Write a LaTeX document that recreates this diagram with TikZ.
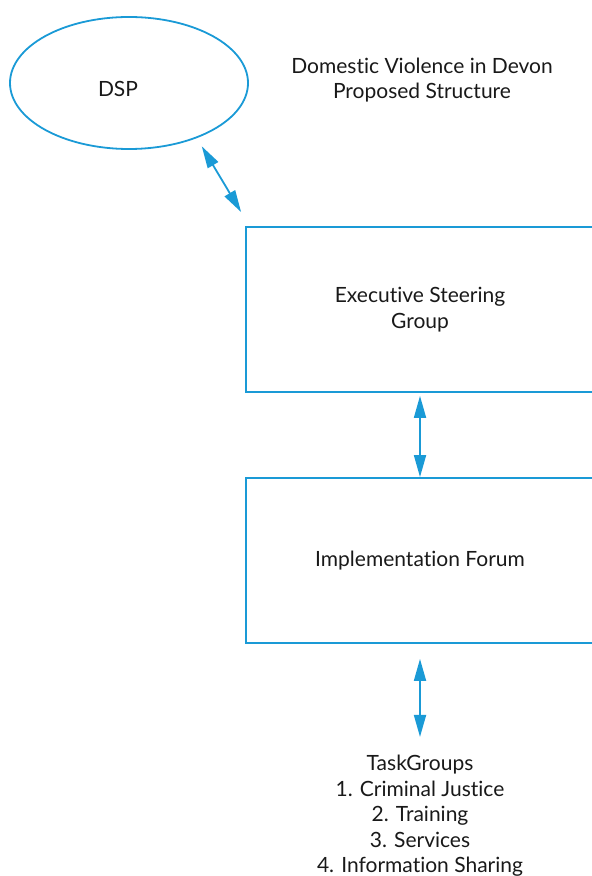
\documentclass[tikz,border=0pt]{standalone}
\usepackage{fontspec}
\setmainfont[Ligatures=NoCommon]{Lato}
\usetikzlibrary{arrows.meta}
\usetikzlibrary{shapes.geometric}
\usetikzlibrary{calc,positioning}

\definecolor{dvblue}{HTML}{1A9AD6}

\begin{document}
\begin{tikzpicture}[x=0.5pt,y=-0.5pt,
    >={Triangle[length=11pt,width=6pt]},
    every node/.style={font=\fontsize{10.5pt}{12.75pt}\selectfont, text=black!90, align=center},
    partner/.style={ellipse, draw=dvblue, line width=0.9pt, inner sep=0pt, minimum width=119pt, minimum height=66pt},
    group/.style={rectangle, draw=dvblue, line width=0.9pt, inner sep=0pt, minimum width=174pt, minimum height=82.5pt},
    link/.style={<->, draw=dvblue, line width=0.9pt}]
    \useasboundingbox (0,0) rectangle (592,876);
    
    \node[partner] (dsp) at (129,83) {};
    \node (dsplabel) at ([xshift=-5.5pt,yshift=-3pt]dsp.center) {DSP};
    
    \node (title) at (422,80) {Domestic Violence in Devon\\Proposed Structure};
    
    \node[group] (esg) at (420,309.5) {Executive Steering\\Group};
    \node[group] (impl) at (420,560.5) {Implementation Forum};
    
    \node[inner sep=0pt] (tasks) at (420,816) {TaskGroups\\1. Criminal Justice\\2. Training\\3. Services\\4. Information Sharing};
    
    \draw[link] ([xshift=4pt,yshift=-3.5pt]dsp.-41.6) -- ([xshift=-2pt,yshift=7pt]esg.north west);
    \draw[link, shorten <=1.5pt] (esg.south) -- (impl.north);
    \draw[link, shorten <=7.5pt, shorten >=9pt] (impl.south) -- (tasks.north);
    
\end{tikzpicture}
\end{document}
